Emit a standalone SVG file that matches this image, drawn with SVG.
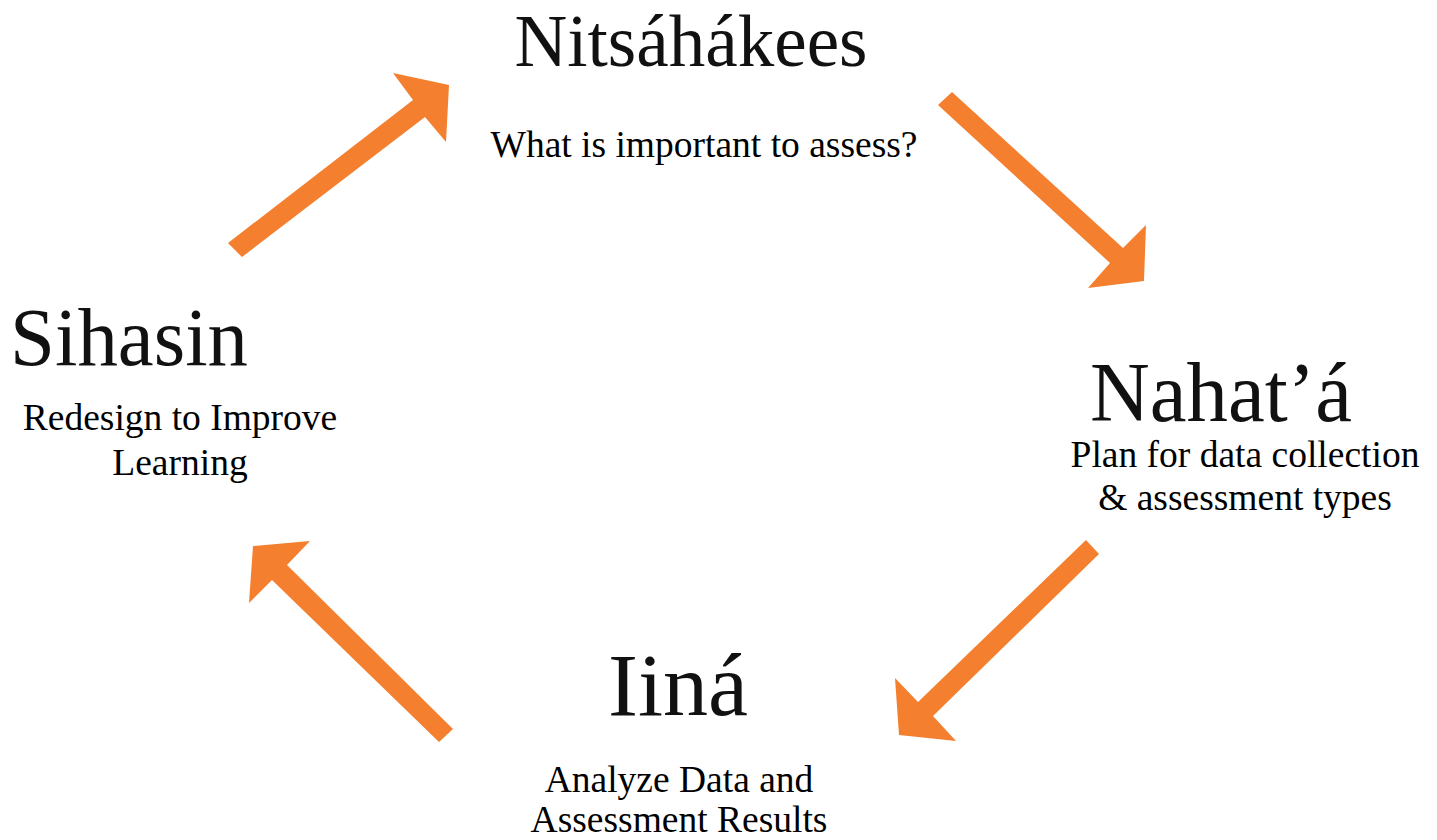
<svg xmlns="http://www.w3.org/2000/svg" width="1437" height="840" viewBox="0 0 1437 840">
<style>
.title{font-family:"Liberation Serif","Times New Roman",serif;fill:#111;text-anchor:middle}
.sub{font-family:"Liberation Serif","Times New Roman",serif;font-size:37.5px;fill:#000;text-anchor:middle}
.arrow{fill:#F47F2E}
</style>
<rect width="1437" height="840" fill="#fff"/>
<g id="connectors">
<polygon class="arrow" points="228,243 413,100 393,73 449,85 446,142 425,117 242,257"/>
<polygon class="arrow" points="952,92 1123,248 1146,225 1144,281 1088,288 1110,263 938,105"/>
<polygon class="arrow" points="1086,540 1099,554 933,716 956,741 899,735 895,678 918,702"/>
<polygon class="arrow" points="453,729 287,565 310,541 253,546 249,603 272,580 439,742"/>
</g>
<g id="node-nitsahakees">
<text class="title" x="691" y="66" font-size="73" textLength="353" lengthAdjust="spacingAndGlyphs">Nitsáhákees</text>
<text class="sub" x="704" y="157">What is important to assess?</text>
</g>
<g id="node-nahata">
<text class="title" x="1221" y="421" font-size="84" textLength="262" lengthAdjust="spacingAndGlyphs">Nahat’á</text>
<text class="sub" x="1245" y="467">Plan for data collection</text>
<text class="sub" x="1245" y="510">&amp; assessment types</text>
</g>
<g id="node-iina">
<text class="title" x="678" y="715" font-size="88" textLength="140" lengthAdjust="spacingAndGlyphs">Iiná</text>
<text class="sub" x="679" y="792">Analyze Data and</text>
<text class="sub" x="679" y="832">Assessment Results</text>
</g>
<g id="node-sihasin">
<text class="title" x="129" y="365" font-size="82" textLength="238" lengthAdjust="spacingAndGlyphs">Sihasin</text>
<text class="sub" x="180" y="430">Redesign to Improve</text>
<text class="sub" x="180" y="475">Learning</text>
</g>
</svg>
